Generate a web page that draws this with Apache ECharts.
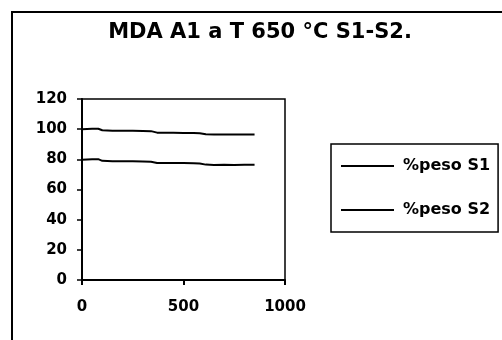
<!DOCTYPE html>
<html>
<head>
<meta charset="utf-8">
<script src="https://cdn.jsdelivr.net/npm/echarts@6/dist/echarts.min.js"></script>
<style>
html,body{margin:0;padding:0;background:#fff;}
#chart{width:502px;height:340px;}
</style>
</head>
<body>
<div id="chart"></div>
<script>
var titleText = 'MDA A1 a T 650 °C S1-S2.';
var seriesNames = ['%peso S1', '%peso S2'];
var times = [0, 50, 80, 100, 150, 200, 250, 300, 340, 370, 400, 450, 500, 550, 580, 610, 650, 700, 750, 800, 850];
var s1 = [100, 100.2, 100.3, 99.3, 99.0, 98.9, 98.9, 98.8, 98.7, 97.7, 97.6, 97.6, 97.5, 97.4, 97.3, 96.6, 96.4, 96.5, 96.5, 96.4, 96.4];
var s2 = [79.8, 80.0, 80.1, 79.0, 78.8, 78.8, 78.8, 78.6, 78.4, 77.6, 77.6, 77.5, 77.5, 77.4, 77.2, 76.5, 76.3, 76.4, 76.3, 76.4, 76.4];

function pairs(xs, ys) { return xs.map(function (x, i) { return [x, ys[i]]; }); }

var font = 'DejaVu Sans';
var chart = echarts.init(document.getElementById('chart'));
chart.setOption({
  animation: false,
  backgroundColor: '#fff',
  title: {
    text: titleText,
    left: 255,
    top: 17,
    textAlign: 'center',
    textStyle: { fontFamily: font, fontWeight: 'bold', fontSize: 21, color: '#000' }
  },
  graphic: [{
    type: 'rect',
    shape: { x: 12, y: 12, width: 500, height: 340 },
    style: { fill: 'none', stroke: '#000', lineWidth: 2 },
    silent: true
  }],
  legend: {
    orient: 'vertical',
    left: 331,
    top: 144,
    padding: [14, 8, 14, 9],
    itemWidth: 53,
    itemHeight: 14,
    itemGap: 28,
    borderColor: '#000',
    borderWidth: 1.5,
    itemStyle: { opacity: 0 },
    lineStyle: { color: '#000', width: 2 },
    textStyle: { fontFamily: font, fontWeight: 'bold', fontSize: 16, color: '#000', padding: [0, 0, 0, 4] },
    data: seriesNames
  },
  grid: {
    left: 82, top: 99, right: 217, bottom: 60,
    show: true, borderColor: '#000', borderWidth: 1.5, backgroundColor: 'transparent'
  },
  xAxis: {
    type: 'value', min: 0, max: 1000, interval: 500,
    splitLine: { show: false },
    axisLine: { lineStyle: { color: '#000', width: 2 } },
    axisTick: { show: true, length: 5, lineStyle: { color: '#000', width: 2 } },
    axisLabel: { fontFamily: font, fontWeight: 'bold', fontSize: 15, color: '#000', margin: 20, formatter: function (v) { return String(v); } }
  },
  yAxis: {
    type: 'value', min: 0, max: 120, interval: 20,
    splitLine: { show: false },
    axisLine: { show: true, lineStyle: { color: '#000', width: 2 } },
    axisTick: { show: true, length: 5, lineStyle: { color: '#000', width: 1.5 } },
    axisLabel: { fontFamily: font, fontWeight: 'bold', fontSize: 15, color: '#000', margin: 15 }
  },
  series: [
    { name: seriesNames[0], type: 'line', data: pairs(times, s1), symbol: 'none', lineStyle: { color: '#000', width: 2 }, itemStyle: { color: '#000' } },
    { name: seriesNames[1], type: 'line', data: pairs(times, s2), symbol: 'none', lineStyle: { color: '#000', width: 2 }, itemStyle: { color: '#000' } }
  ]
});
</script>
</body>
</html>
